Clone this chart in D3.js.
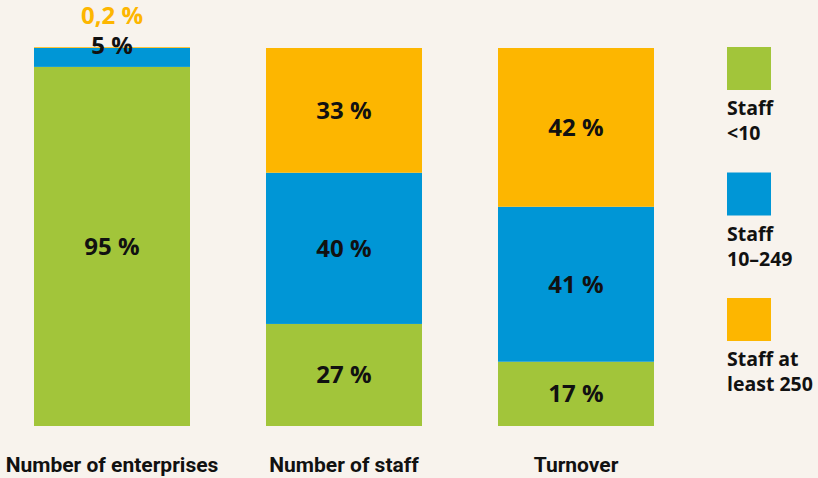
<!DOCTYPE html>
<html><head><meta charset="utf-8">
<script src="https://cdn.jsdelivr.net/npm/d3@7"></script>
<style>html,body{margin:0;padding:0;background:#f8f3ed;}svg{display:block;}</style>
</head><body><svg id="c" width="818" height="478"></svg>
<script>
const categories = ["Number of enterprises", "Number of staff", "Turnover"];
const seriesNames = ["Staff <10", "Staff 10–249", "Staff at least 250"];
const legendLines = [["Staff", "<10"], ["Staff", "10–249"], ["Staff at", "least 250"]];
const small = [95, 27, 17];
const medium = [5, 40, 41];
const large = [0.2, 33, 42];
const valueLabels = [["95 %", "27 %", "17 %"], ["5 %", "40 %", "41 %"], ["0,2 %", "33 %", "42 %"]];
const colors = ["#a2c53a", "#0096d6", "#fdb600"];

const svg = d3.select("#c");
const bg = "#f8f3ed";
svg.append("rect").attr("width", 818).attr("height", 478).attr("fill", bg);

const x = d3.scaleBand().domain(categories).range([34, 654]).paddingInner(0.3276).paddingOuter(0);
const y = d3.scaleLinear().domain([0, 100]).range([426, 48]);

const rows = categories.map((c, i) => ({cat: c, s0: small[i], s1: medium[i], s2: large[i]}));
const stack = d3.stack().keys(["s0", "s1", "s2"])(rows);

const valueFont = "'Open Sans', sans-serif";
stack.forEach((layer, si) => {
  svg.append("g").selectAll("rect").data(layer).join("rect")
    .attr("x", d => x(d.data.cat))
    .attr("width", x.bandwidth())
    .attr("y", d => y(d[1]))
    .attr("height", d => Math.max(0, y(d[0]) - y(d[1])))
    .attr("fill", colors[si]);
});

// labels
categories.forEach((c, ci) => {
  let k = 0;
  stack.forEach((layer, si) => {
    const d = layer[ci];
    const v = d[1] - d[0];
    let ty, fill = "#111";
    if (v < 10) {
      ty = y(100) + 6 - 30.5 * k;
      if (k > 0) fill = colors[si];
      k++;
    } else {
      ty = (y(d[0]) + y(d[1])) / 2 + 8.5;
    }
    svg.append("text").attr("x", x(c) + x.bandwidth() / 2).attr("y", ty)
      .attr("text-anchor", "middle").attr("fill", fill)
      .style("font-family", valueFont).style("font-weight", 700).style("font-size", "24px")
      .text(valueLabels[si][ci]);
  });
  svg.append("text").attr("x", x(c) + x.bandwidth() / 2).attr("y", 472)
    .attr("text-anchor", "middle").attr("fill", "#111")
    .style("font-family", "Roboto, sans-serif").style("font-weight", 700).style("font-size", "21px")
    .text(c);
});

// legend
const ly = d3.scaleBand().domain(seriesNames).range([47, 47 + 125.5 * 3]).paddingInner(0).paddingOuter(0);
seriesNames.forEach((s, i) => {
  const top = ly(s);
  svg.append("rect").attr("x", 727).attr("y", top).attr("width", 44).attr("height", 43).attr("fill", colors[i]);
  legendLines[i].forEach((t, j) => {
    svg.append("text").attr("x", 727).attr("y", top + 68 + 25 * j).attr("fill", "#111")
      .style("font-family", valueFont).style("font-weight", 700).style("font-size", "19.5px")
      .text(t);
  });
});
</script></body></html>
